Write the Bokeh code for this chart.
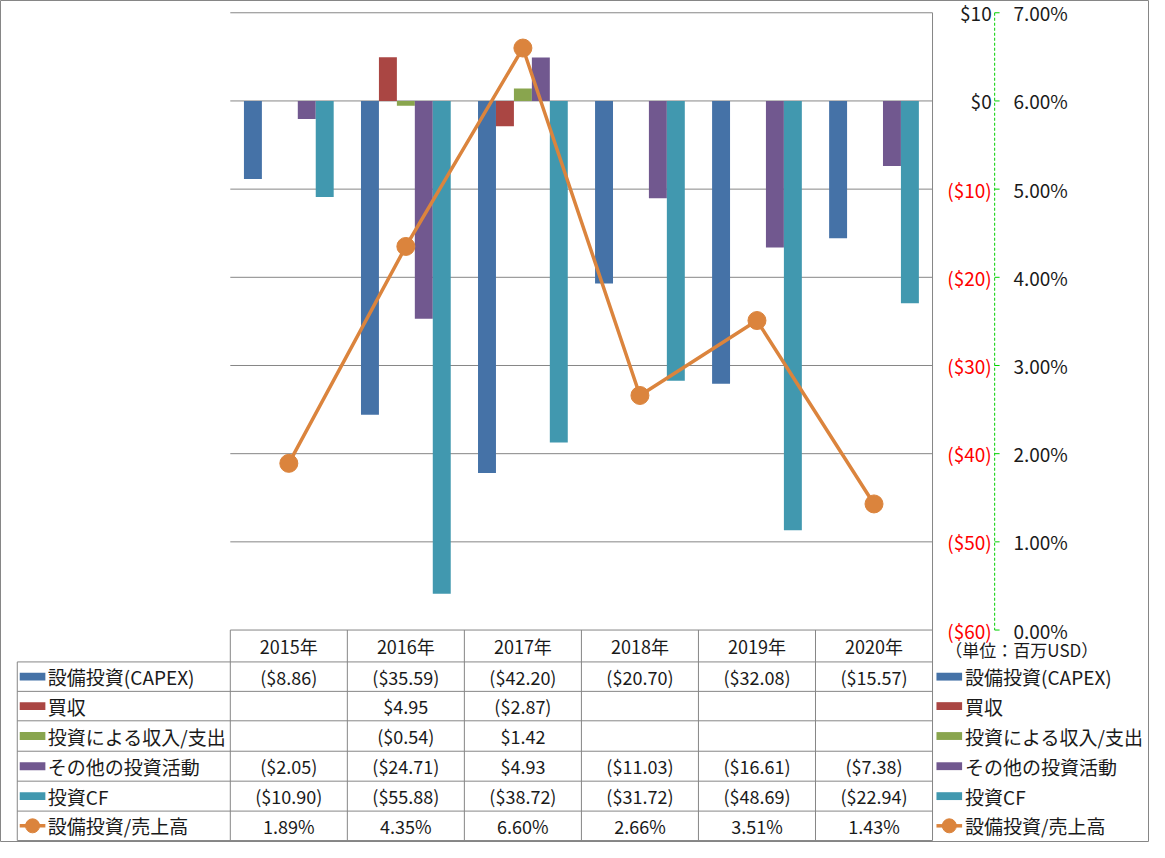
import numpy as np
from bokeh.plotting import figure
from bokeh.models import Range1d
from bokeh.core.properties import value
from bokeh.embed import file_html
from bokeh.resources import INLINE

# ---------------- data ----------------
years = ["2015年", "2016年", "2017年", "2018年", "2019年", "2020年"]
capex = [-8.86, -35.59, -42.20, -20.70, -32.08, -15.57]
acquisition = [None, 4.95, -2.87, None, None, None]
invest_income = [None, -0.54, 1.42, None, None, None]
other_invest = [-2.05, -24.71, 4.93, -11.03, -16.61, -7.38]
invest_cf = [-10.90, -55.88, -38.72, -31.72, -48.69, -22.94]
capex_ratio = [1.89, 4.35, 6.60, 2.66, 3.51, 1.43]  # %

series_names = ["設備投資(CAPEX)", "買収", "投資による収入/支出", "その他の投資活動", "投資CF"]
line_name = "設備投資/売上高"
dollar_ticks = [10, 0, -10, -20, -30, -40, -50, -60]
pct_ticks = [7, 6, 5, 4, 3, 2, 1, 0]
unit_label = "（単位：百万USD）"

# ---------------- styles / layout ----------------
colors = ["#4572A7", "#AA4643", "#89A54E", "#71588F", "#4198AF"]
line_color = "#DB843D"
grid_color = "#868686"
text_color = "#1a1a1a"
FONT = "Noto Sans CJK JP"

REF_W, REF_H = 1165, 858          # reference canvas geometry
W, H = 1149, 842                  # figure size
PL, PR, PT, PB = 233, 945, 12.5, 641.5   # plot area in reference pixels
VMIN, VMAX = -60, 10
PMIN, PMAX = 0, 7

ncat = len(years)
ux = (PR - PL) / ncat
uy = (PB - PT) / (VMAX - VMIN)
zero_y = PT + VMAX * uy

x_range = Range1d(-PL / ux, (REF_W - PL) / ux)
y_range = Range1d((zero_y - REF_H) / uy, zero_y / uy)


def to_pct(v):
    return PMIN + (v - VMIN) / (VMAX - VMIN) * (PMAX - PMIN)


p = figure(width=W, height=H, x_range=x_range, y_range=y_range,
           x_axis_type=None, y_axis_type=None,
           output_backend="svg", toolbar_location=None, min_border=0)
p.extra_x_ranges = {"px": Range1d(0, REF_W)}
p.extra_y_ranges = {"py": Range1d(REF_H, 0),
                    "pct": Range1d(to_pct(y_range.start), to_pct(y_range.end))}
p.outline_line_color = grid_color
p.outline_line_width = 1
p.background_fill_color = "white"
p.border_fill_color = "white"

# ---------------- gridlines ----------------
p.segment(x0=[0] * len(dollar_ticks), x1=[ncat] * len(dollar_ticks),
          y0=dollar_ticks, y1=dollar_ticks, line_color=grid_color, line_width=1)
p.segment(x0=[ncat], x1=[ncat], y0=[VMAX], y1=[VMIN], line_color=grid_color, line_width=1)

# ---------------- bars ----------------
bar_w = 18.2 / ux
side = (1 - len(series_names) * bar_w) / 2
all_series = [capex, acquisition, invest_income, other_invest, invest_cf]
for j, (vals, col) in enumerate(zip(all_series, colors)):
    xs, tops = [], []
    for i, v in enumerate(vals):
        if v is None:
            continue
        xs.append(i + side + bar_w * (j + 0.5))
        tops.append(v)
    p.vbar(x=xs, top=tops, bottom=0, width=bar_w, fill_color=col, line_color=None)

# ---------------- line ----------------
cx = np.arange(ncat) + 0.5
p.line(x=cx, y=capex_ratio, y_range_name="pct", line_color=line_color, line_width=3.5)
p.scatter(x=cx, y=capex_ratio, y_range_name="pct", marker="circle", size=18,
          fill_color=line_color, line_color=line_color)

# ---------------- right axes ----------------
def fmt_dollar(v):
    if v < 0:
        return "(${:,.0f})".format(-v)
    return "${:,.0f}".format(v)


p.text(x=[1005] * len(dollar_ticks), y=dollar_ticks,
       text=[fmt_dollar(v) for v in dollar_ticks],
       text_color=["#FF0000" if v < 0 else text_color for v in dollar_ticks],
       x_range_name="px", text_font=value(FONT), text_font_size="19px",
       text_align="right", text_baseline="middle")

axis_green = "#00D000"
p.segment(x0=[1008], x1=[1008], y0=[VMAX], y1=[VMIN], x_range_name="px",
          line_color=axis_green, line_width=1, line_dash="3 2")
p.segment(x0=[1008] * len(dollar_ticks), x1=[1013] * len(dollar_ticks),
          y0=dollar_ticks, y1=dollar_ticks, x_range_name="px",
          line_color=axis_green, line_width=1)

p.text(x=[1027] * len(pct_ticks), y=pct_ticks,
       text=["{:.2f}%".format(t) for t in pct_ticks],
       x_range_name="px", y_range_name="pct", text_color=text_color,
       text_font=value(FONT), text_font_size="19px",
       text_align="left", text_baseline="middle")

p.text(x=[958], y=[661], text=[unit_label], x_range_name="px", y_range_name="py",
       text_font=value(FONT), text_font_size="17px", text_align="left",
       text_baseline="middle", text_color=text_color)

# ---------------- data table ----------------
TL = 17
row_bounds = [674, 704, 734, 765, 795.5, 826, 856]
row_centers = [(a + b) / 2 for a, b in zip(row_bounds[:-1], row_bounds[1:])]
header_y = (PB + row_bounds[0]) / 2

p.segment(x0=[TL] * len(row_bounds), x1=[PR] * len(row_bounds),
          y0=row_bounds, y1=row_bounds, x_range_name="px", y_range_name="py",
          line_color=grid_color, line_width=1)
p.segment(x0=[TL], x1=[TL], y0=[row_bounds[0]], y1=[row_bounds[-1]],
          x_range_name="px", y_range_name="py", line_color=grid_color, line_width=1)
p.segment(x0=list(range(ncat + 1)), x1=list(range(ncat + 1)),
          y0=[PB] * (ncat + 1), y1=[row_bounds[-1]] * (ncat + 1),
          y_range_name="py", line_color=grid_color, line_width=1)

p.text(x=cx, y=[header_y] * ncat, text=years, y_range_name="py",
       text_font=value(FONT), text_font_size="18px", text_color=text_color,
       text_align="center", text_baseline="middle")


def fmt_val(v):
    if v is None:
        return ""
    if v < 0:
        return "(${:.2f})".format(-v)
    return "${:.2f}".format(v)


for r, vals in enumerate(all_series):
    p.text(x=cx, y=[row_centers[r]] * ncat, text=[fmt_val(v) for v in vals],
           y_range_name="py", text_font=value(FONT), text_font_size="18px",
           text_color=text_color, text_align="center", text_baseline="middle")
p.text(x=cx, y=[row_centers[5]] * ncat, text=["{:.2f}%".format(v) for v in capex_ratio],
       y_range_name="py", text_font=value(FONT), text_font_size="18px",
       text_color=text_color, text_align="center", text_baseline="middle")

labels = series_names + [line_name]
for key_x, text_x in [(32.5, 48), (962, 978)]:
    p.rect(x=[key_x] * 5, y=row_centers[:5], width=26, height=8,
           x_range_name="px", y_range_name="py", fill_color=colors, line_color=None)
    p.segment(x0=[key_x - 13], x1=[key_x + 13], y0=[row_centers[5]], y1=[row_centers[5]],
              x_range_name="px", y_range_name="py", line_color=line_color, line_width=3.5)
    p.scatter(x=[key_x], y=[row_centers[5]], x_range_name="px", y_range_name="py",
              marker="circle", size=14, fill_color=line_color, line_color=line_color)
    p.text(x=[text_x] * len(labels), y=row_centers, text=labels,
           x_range_name="px", y_range_name="py", text_font=value(FONT),
           text_font_size="19px", text_color=text_color,
           text_align="left", text_baseline="middle")

open("out.html", "w").write(file_html(p, INLINE))
